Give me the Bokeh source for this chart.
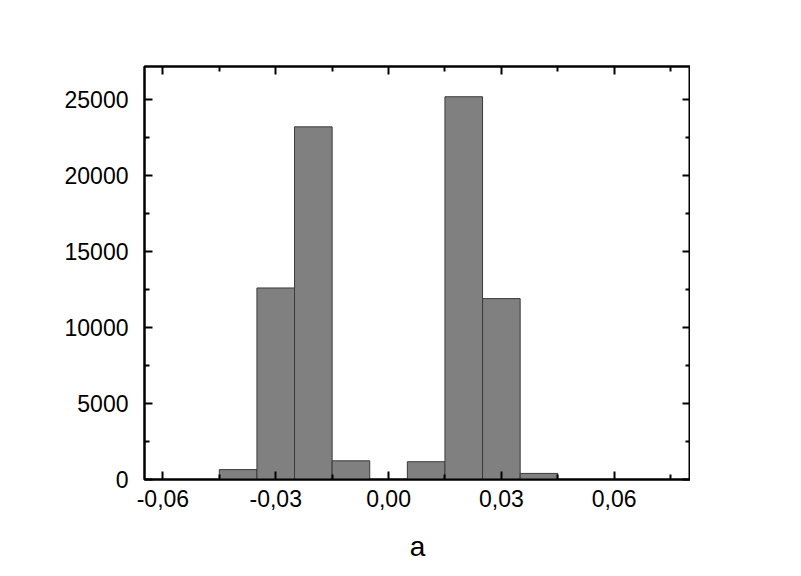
from bokeh.plotting import figure
from bokeh.models import Range1d, FixedTicker, CustomJSTickFormatter, LinearAxis
from bokeh.embed import file_html
from bokeh.resources import INLINE

# data
bin_centers = [-0.04, -0.03, -0.02, -0.01, 0.01, 0.02, 0.03, 0.04]
counts = [650, 12600, 23200, 1230, 1170, 25180, 11900, 400]
bin_width = 0.01
x_major = [-0.06, -0.03, 0.0, 0.03, 0.06]
x_minor = [-0.075, -0.045, -0.015, 0.015, 0.045, 0.075]
y_major = [0, 5000, 10000, 15000, 20000, 25000]
y_minor = [2500, 7500, 12500, 17500, 22500, 27500]
x_label = "a"

FONT = "Liberation Sans"

p = figure(frame_width=546, frame_height=413, output_backend="svg", toolbar_location=None,
           x_range=Range1d(-0.0649, 0.0803), y_range=Range1d(0, 27170),
           x_axis_location=None, y_axis_location=None,
           min_border_left=144, min_border_right=0, min_border_top=66, min_border_bottom=0)
p.grid.visible = False
p.outline_line_color = "black"
p.outline_line_width = 2
p.background_fill_color = "white"
p.border_fill_color = "white"

p.vbar(x=bin_centers, width=bin_width, top=counts, bottom=0,
       fill_color="#808080", line_color="#3a3a3a", line_width=1)

fmt = CustomJSTickFormatter(code="""
var v = Math.abs(tick) < 1e-9 ? 0 : tick;
return v.toFixed(2).replace('.', ',');
""")

def style(ax, labels=True):
    ax.axis_line_color = "black"
    ax.axis_line_width = 2
    ax.major_tick_line_width = 2
    ax.minor_tick_line_width = 2
    ax.major_tick_in = 8
    ax.major_tick_out = 0
    ax.minor_tick_in = 5
    ax.minor_tick_out = 0
    ax.major_label_text_font = FONT
    ax.major_label_text_font_size = "23px"
    ax.major_label_text_color = "black"
    if not labels:
        ax.major_label_text_font_size = "0px"
        ax.major_label_text_color = None

xb = LinearAxis(ticker=FixedTicker(ticks=x_major, minor_ticks=x_minor), formatter=fmt)
style(xb)
xb.major_label_standoff = 10
xb.axis_label = x_label
xb.axis_label_text_font = FONT
xb.axis_label_text_font_size = "28px"
xb.axis_label_text_font_style = "normal"
xb.axis_label_text_color = "black"
xb.axis_label_standoff = 21
p.add_layout(xb, "below")

xa = LinearAxis(ticker=FixedTicker(ticks=x_major, minor_ticks=x_minor))
style(xa, labels=False)
p.add_layout(xa, "above")

yl = LinearAxis(ticker=FixedTicker(ticks=y_major, minor_ticks=y_minor))
style(yl)
yl.major_label_standoff = 16
p.add_layout(yl, "left")

yr = LinearAxis(ticker=FixedTicker(ticks=y_major, minor_ticks=y_minor))
style(yr, labels=False)
p.add_layout(yr, "right")

open("out.html", "w").write(file_html(p, INLINE))
